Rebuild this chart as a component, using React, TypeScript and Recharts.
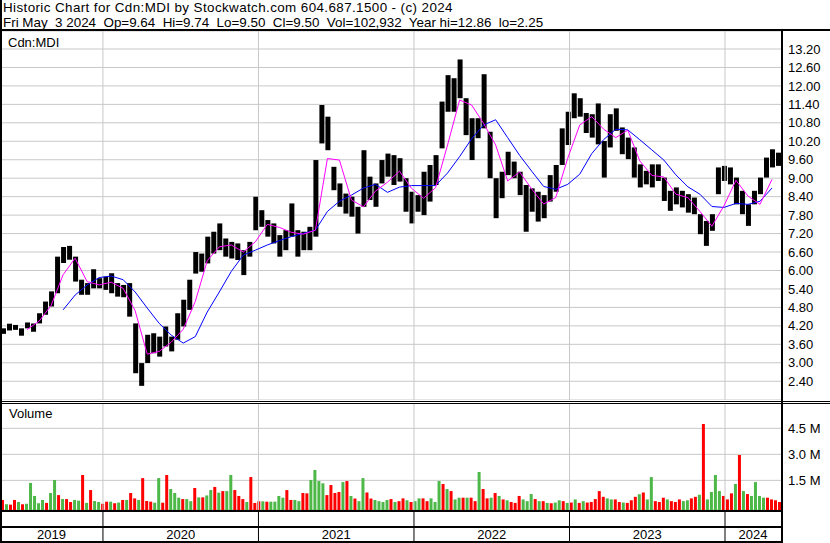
import React from "react";
import {
  ComposedChart,
  Bar,
  Line,
  XAxis,
  YAxis,
  CartesianGrid,
  ReferenceLine,
  Cell,
} from "recharts";

// time span shown (decimal years), May 2019 .. May 3 2024
const T0 = 2019.338;
const T1 = 2024.36;

const yearStarts = [2020, 2021, 2022, 2023, 2024];
const yearLabels = ["2019", "2020", "2021", "2022", "2023", "2024"];

const priceTicks = [2.4, 3.0, 3.6, 4.2, 4.8, 5.4, 6.0, 6.6, 7.2, 7.8, 8.4, 9.0, 9.6, 10.2, 10.8, 11.4, 12.0, 12.6, 13.2];
const volumeTicks = [1.5, 3.0, 4.5];

// two-week high / low
const priceHigh = [
  4.12, 4.27, 4.23, 4.12, 4.31, 4.28, 4.61, 4.99, 5.32, 6.45,
  6.76, 6.8, 6.45, 5.7, 5.59, 6.04, 5.75, 5.8, 5.91, 5.59,
  5.53, 5.59, 4.28, 2.99, 3.91, 3.96, 3.85, 4.18, 3.85, 4.61,
  5.05, 5.7, 6.6, 6.55, 7.1, 7.26, 7.53, 7.04, 6.93, 6.88,
  6.66, 6.93, 8.4, 7.96, 7.64, 7.53, 7.15, 7.31, 8.18, 7.31,
  7.26, 7.42, 9.59, 11.38, 11.0, 9.37, 8.83, 8.5, 8.4, 8.07,
  9.91, 9.05, 8.83, 9.59, 9.8, 9.75, 9.65, 9.0, 8.56, 8.45,
  9.21, 9.43, 9.75, 11.49, 12.35, 12.25, 12.86, 11.6, 10.95, 10.95,
  12.38, 10.51, 9.0, 9.21, 9.86, 9.54, 9.21, 8.78, 8.67, 8.56,
  8.45, 9.1, 9.43, 10.62, 11.16, 11.76, 11.6, 11.12, 11.08, 11.43,
  10.21, 11.08, 11.27, 10.65, 10.32, 10.0, 9.45, 9.24, 9.45, 9.45,
  9.02, 8.59, 8.7, 8.59, 8.48, 8.37, 7.83, 7.61, 7.83, 9.35,
  9.4, 9.35, 9.02, 8.59, 8.15, 8.59, 9.02, 9.67, 9.94, 9.83,
];
const priceLow = [
  3.94, 4.05, 4.07, 3.88, 4.12, 4.01, 4.28, 4.56, 4.83, 5.26,
  6.24, 6.35, 5.64, 5.21, 5.21, 5.42, 5.42, 5.37, 5.26, 5.15,
  5.13, 4.5, 2.66, 2.25, 2.99, 3.31, 3.2, 3.53, 3.37, 3.75,
  4.18, 4.72, 5.9, 5.96, 6.23, 6.55, 6.66, 6.45, 6.39, 6.34,
  5.85, 6.45, 7.31, 7.42, 7.1, 6.88, 6.45, 6.66, 7.1, 6.45,
  6.66, 6.66, 7.1, 10.13, 9.91, 8.61, 8.07, 7.85, 7.75, 7.2,
  8.07, 8.29, 8.07, 8.83, 9.05, 8.78, 8.89, 7.91, 7.53, 7.91,
  7.8, 8.24, 8.78, 9.97, 11.16, 11.16, 11.6, 10.4, 9.59, 10.3,
  10.62, 9.0, 7.7, 8.35, 9.1, 9.0, 8.45, 7.26, 7.91, 7.59,
  7.7, 8.24, 8.56, 9.43, 10.08, 10.95, 11.0, 10.47, 10.32, 10.1,
  9.02, 10.0, 10.54, 9.78, 9.62, 9.02, 8.7, 8.8, 8.7, 8.91,
  8.26, 7.94, 8.15, 8.05, 7.88, 7.83, 7.18, 6.8, 7.29, 8.48,
  8.91, 8.8, 8.15, 7.83, 7.45, 8.15, 8.48, 9.02, 9.35, 9.4,
];

// moving averages, read at every second bar
const fastMa = [
  null, null, 4.08, 4.35, 4.86, 5.86, 6.4, 5.64, 5.53, 5.62,
  5.42, 4.69, 3.28, 3.37, 3.67, 4.09, 4.99, 6.32, 6.77, 6.83,
  6.6, 6.93, 7.5, 7.4, 7.24, 7.18, 7.31, 9.64, 9.59, 8.29,
  8.07, 8.58, 8.87, 9.23, 8.67, 8.35, 8.69, 10.08, 11.54, 11.38,
  10.78, 10.08, 8.91, 9.2, 8.65, 8.16, 8.37, 9.65, 10.73, 11.0,
  10.59, 10.32, 10.56, 9.56, 9.09, 9.04, 8.48, 8.37, 7.92, 7.44,
  8.1, 8.93, 8.42, 8.15, 8.96,
];
const slowMa = [
  null, null, null, null, null, 4.72, 5.2, 5.53, 5.77, 5.82,
  5.7, 5.3, 4.78, 4.28, 3.9, 3.64, 3.85, 4.65, 5.3, 5.97,
  6.5, 6.66, 6.83, 6.97, 7.1, 7.21, 7.31, 7.92, 8.25, 8.45,
  8.68, 8.8, 8.54, 8.71, 8.76, 8.76, 8.76, 9.17, 9.7, 10.28,
  10.73, 10.9, 10.32, 9.74, 9.23, 8.73, 8.64, 8.8, 9.13, 9.8,
  10.26, 10.59, 10.57, 10.25, 9.92, 9.59, 9.11, 8.72, 8.48, 8.08,
  8.05, 8.18, 8.15, 8.25, 8.68,
];

// volume in millions; g = up, r = down
const volume = [
  0.37, 0.12, 0.1, 0.37, 0.25, 0.12, 0.15, 1.35, 0.6, 0.18,
  0.37, 0.2, 0.77, 1.52, 0.65, 0.42, 0.42, 0.25, 0.37, 0.33,
  1.81, 0.2, 0.94, 0.31, 0.25, 0.15, 0.27, 0.27, 0.18, 0.22,
  0.37, 0.37, 0.77, 0.46, 0.37, 1.63, 0.31, 0.27, 0.21, 1.63,
  0.21, 1.81, 1.0, 0.77, 0.5, 0.42, 0.42, 0.3, 1.06, 0.52,
  0.52, 0.63, 0.94, 1.12, 0.79, 0.88, 0.88, 1.81, 0.94, 0.6,
  0.42, 0.25, 1.69, 0.2, 0.29, 0.29, 0.27, 0.27, 0.27, 0.6,
  0.5, 0.94, 0.37, 0.37, 0.3, 0.77, 0.75, 1.52, 2.1, 1.46,
  1.33, 0.65, 1.23, 0.77, 0.83, 1.4, 1.46, 0.6, 0.45, 0.3,
  1.63, 0.8, 0.45, 0.37, 0.3, 0.25, 0.37, 0.42, 0.25, 0.3,
  0.46, 0.35, 0.25, 0.3, 0.46, 0.46, 0.3, 0.46, 0.25, 1.46,
  1.29, 1.0, 0.88, 0.4, 0.5, 0.5, 0.5, 0.5, 0.3, 1.98,
  1.0, 0.46, 0.5, 0.77, 0.6, 0.4, 0.35, 0.25, 0.2, 0.6,
  0.4, 0.3, 0.71, 0.42, 0.3, 0.3, 0.2, 0.18, 0.22, 0.35,
  0.3, 0.2, 0.22, 0.4, 0.2, 0.3, 0.22, 0.25, 0.42, 0.88,
  0.55, 0.46, 0.4, 0.4, 0.25, 0.22, 0.2, 0.35, 0.55, 0.7,
  0.8, 0.4, 1.69, 0.3, 0.25, 0.5, 0.4, 0.3, 0.25, 0.4,
  0.3, 0.35, 0.46, 0.55, 0.67, 4.75, 0.4, 0.83, 1.81, 0.88,
  0.6, 0.4, 0.75, 1.29, 2.96, 0.88, 0.71, 0.6, 1.4, 0.6,
  0.5, 0.5, 0.4, 0.35, 0.25,
];
const volumeSide = (
  "rgrrgrgggg grggrgrrg grgrggrrgr grgrrgrrrg grrgggrggr" +
  " grggrgrggr rrgrrrgrgg ggrrggrrgg ggrrrrgrgr ggrrggggrg" +
  " rrgrggrrgg grgrggrgrr grrgrgrgrr rgggrgrgrg grgrgrgrrr" +
  " rrggrrgrrr grggrrrgrr rggrrgrggg grrrgrgrgg ggrrr"
).replace(/ /g, "");

const GREEN = "#4db848";
const RED = "#ff0000";
const GRID = "#c8c8c8";
const FONT = '"Liberation Sans", Arial, sans-serif';

const PRICE_MIN = 1.79;
const PRICE_MAX = 13.785;
const VOL_MIN = -0.21;
const VOL_MAX = 5.96;

const priceStep = (T1 - T0) / priceHigh.length;
const priceRows = priceHigh.map((hi, i) => ({
  t: T0 + (i + 0.5) * priceStep,
  range: [priceLow[i], hi],
  fast: i % 2 === 0 ? fastMa[i / 2] : null,
  slow: i % 2 === 0 ? slowMa[i / 2] : null,
}));

const volStep = (T1 - T0) / volume.length;
const volumeRows = volume.map((v, j) => ({
  t: T0 + (j + 0.5) * volStep,
  vol: v,
  up: volumeSide[j] === "g",
}));

const bounds = [T0, ...yearStarts, T1];
const yearCenters = bounds.slice(0, -1).map((b, k) => (b + bounds[k + 1]) / 2);
const bottomTicks = [...yearStarts, ...yearCenters].sort((a, b) => a - b);

function YearTick(props: any) {
  const { x, y, payload } = props;
  const v = payload.value;
  if (yearStarts.includes(v)) {
    return <line x1={x} x2={x} y1={y} y2={y + 31} stroke="#000" strokeWidth={1} />;
  }
  const k = yearCenters.indexOf(v);
  return (
    <text x={x} y={y + 29} textAnchor="middle" fontSize={13} fill="#000">
      {yearLabels[k]}
    </text>
  );
}

const line = (left: number, top: number, width: number, height: number) => (
  <div style={{ position: "absolute", left, top, width, height, background: "#000" }} />
);

export default function App() {
  return (
    <div
      style={{
        position: "absolute",
        left: 0,
        top: 0,
        width: 830,
        height: 543,
        background: "#fff",
        overflow: "hidden",
        fontFamily: FONT,
        color: "#000",
      }}
    >
      <div
        style={{
          position: "absolute",
          left: 3,
          top: 1,
          fontSize: 13.4,
          lineHeight: "14px",
          letterSpacing: "0.4px",
          whiteSpace: "pre",
        }}
      >
        Historic Chart for Cdn:MDI by Stockwatch.com 604.687.1500 - (c) 2024
      </div>
      <div style={{ position: "absolute", left: 3, top: 15.5, fontSize: 13.4, lineHeight: "14px", whiteSpace: "pre" }}>
        {"Fri May  3 2024  Op=9.64  Hi=9.74  Lo=9.50  Cl=9.50  Vol=102,932  Year hi=12.86  lo=2.25"}
      </div>

      <div style={{ position: "absolute", left: 0, top: 31 }}>
        <ComposedChart width={830} height={369} data={priceRows} margin={{ top: 0, right: 0, bottom: 0, left: 0 }}>
          <CartesianGrid vertical={false} stroke={GRID} />
          <XAxis type="number" dataKey="t" domain={[T0, T1]} allowDataOverflow hide />
          <YAxis
            orientation="right"
            width={49}
            domain={[PRICE_MIN, PRICE_MAX]}
            allowDataOverflow
            ticks={priceTicks}
            interval={0}
            tickFormatter={(v: number) => v.toFixed(2)}
            axisLine={false}
            tickLine={false}
            tickSize={5}
            tickMargin={2}
            tick={{ fill: "#000", fontSize: 13 }}
          />
          {yearStarts.map((y) => (
            <ReferenceLine key={y} x={y} stroke={GRID} />
          ))}
          <Bar dataKey="range" fill="#000" barSize={5} isAnimationActive={false} />
          <Line dataKey="slow" stroke="#0000ff" strokeWidth={1} dot={false} connectNulls isAnimationActive={false} />
          <Line dataKey="fast" stroke="#ff00ff" strokeWidth={1} dot={false} connectNulls isAnimationActive={false} />
        </ComposedChart>
      </div>

      <div style={{ position: "absolute", left: 0, top: 403 }}>
        <ComposedChart width={830} height={140} data={volumeRows} margin={{ top: 0, right: 0, bottom: 0, left: 0 }}>
          <CartesianGrid vertical={false} stroke={GRID} />
          <XAxis
            type="number"
            dataKey="t"
            domain={[T0, T1]}
            allowDataOverflow
            ticks={bottomTicks}
            interval={0}
            height={33}
            axisLine={false}
            tickLine={false}
            tickSize={0}
            tickMargin={0}
            tick={(p: any) => <YearTick {...p} />}
          />
          <YAxis
            orientation="right"
            width={49}
            domain={[VOL_MIN, VOL_MAX]}
            allowDataOverflow
            ticks={volumeTicks}
            interval={0}
            tickFormatter={(v: number) => `${v.toFixed(1)} M`}
            axisLine={false}
            tickLine={false}
            tickSize={5}
            tickMargin={2}
            tick={{ fill: "#000", fontSize: 13 }}
          />
          {yearStarts.map((y) => (
            <ReferenceLine key={y} x={y} stroke={GRID} />
          ))}
          <Bar dataKey={(r: any) => [VOL_MIN, r.vol]} barSize={3} isAnimationActive={false}>
            {volumeRows.map((r, j) => (
              <Cell key={j} fill={r.up ? GREEN : RED} />
            ))}
          </Bar>
        </ComposedChart>
      </div>

      <div style={{ position: "absolute", left: 8, top: 35.5, fontSize: 13, lineHeight: "13px" }}>Cdn:MDI</div>
      <div style={{ position: "absolute", left: 9, top: 407, fontSize: 13, lineHeight: "13px" }}>Volume</div>

      {line(0, 0, 2, 543)}
      {line(0, 29, 830, 2)}
      {line(781, 31, 2, 512)}
      {line(0, 401, 830, 1)}
      {line(0, 403, 830, 1)}
      {line(0, 510, 783, 2)}
      {line(0, 526, 783, 2)}
      {line(0, 541, 783, 2)}
    </div>
  );
}
